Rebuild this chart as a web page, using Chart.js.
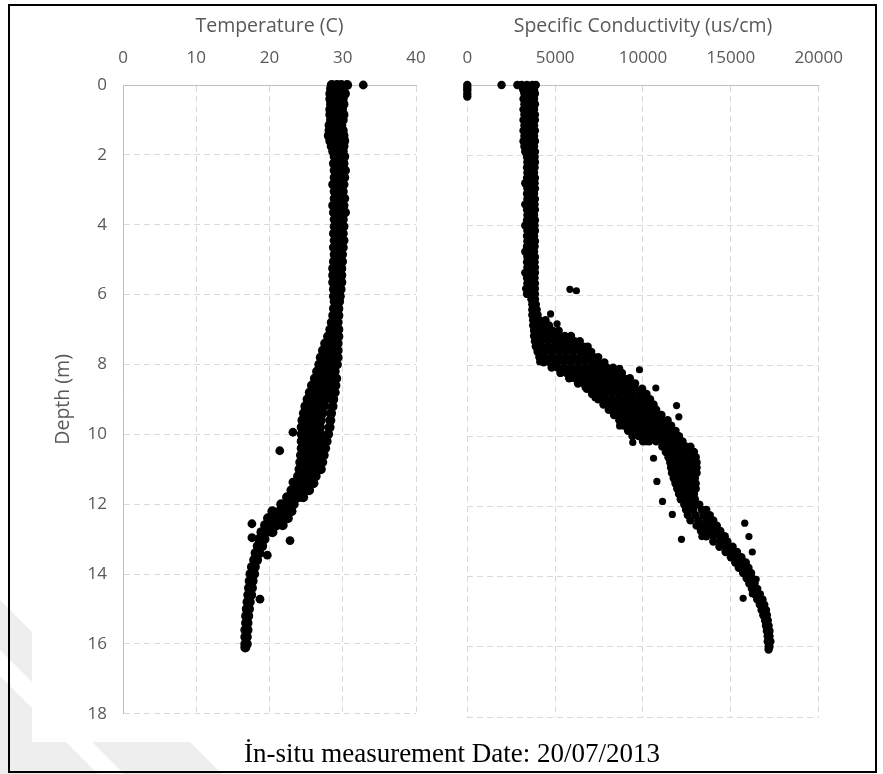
<!DOCTYPE html>
<html>
<head>
<meta charset="utf-8">
<script src="https://cdn.jsdelivr.net/npm/chart.js@4.4.1/dist/chart.umd.min.js"></script>
<style>
  * { margin: 0; padding: 0; box-sizing: border-box; }
  body { width: 883px; height: 774px; background: #fff; position: relative; overflow: hidden; }
  #mark { position: absolute; left: 0; top: 0; }
  #panel { position: absolute; left: 32px; top: 8px; width: 836px; height: 734px; background: #fff; }
  #frame { position: absolute; left: 8px; top: 4px; width: 869px; height: 769px; border: 2px solid #000; }
  canvas { position: absolute; }
  #tempChart { left: 30px; top: 10px; }
  #condChart { left: 440px; top: 10px; }
  #caption {
    position: absolute; left: 8px; width: 888px; top: 737px; text-align: center;
    font-family: "Liberation Serif", "Times New Roman", serif; font-size: 27px; line-height: 32px; color: #000;
  }
</style>
</head>
<body>
<svg id="mark" width="883" height="774">
  <polygon points="0,600 32,632 32,742 190,742 222,774 0,774" fill="#eeeeee"/>
  <polygon points="0,650 0,676 98,774 124,774" fill="#ffffff"/>
</svg>
<div id="panel"></div>
<canvas id="tempChart" width="420" height="730"></canvas>
<canvas id="condChart" width="420" height="730"></canvas>
<div id="caption">İn-situ measurement Date: 20/07/2013</div>
<div id="frame"></div>
<script>
// Each row: [depth (m), value, value, ...]
const tempUpper = [
  [0.0, 28.5, 29.2, 29.8, 30.6], [0.1, 28.4, 29.0, 29.8], [0.25, 28.3, 29.0, 29.8, 30.3],
  [0.4, 28.3, 29.1, 30.0], [0.55, 28.4, 29.2, 30.1], [0.7, 28.3, 29.0, 29.9],
  [0.85, 28.3, 29.1, 30.1], [1.0, 28.4, 29.2, 30.0], [1.15, 28.2, 29.0, 29.8],
  [1.3, 28.2, 29.1, 30.0], [1.45, 28.1, 29.0, 30.1], [1.6, 28.3, 29.2, 30.2],
  [1.75, 28.5, 29.3, 30.1], [1.9, 28.7, 29.4, 30.0], [2.05, 28.9, 29.6, 30.2],
  [2.25, 28.8, 29.5, 30.1], [2.45, 28.9, 29.6, 30.3], [2.65, 28.9, 29.5, 30.2],
  [2.85, 28.7, 29.5, 30.1], [3.05, 28.9, 29.6, 30.0], [3.25, 28.9, 29.5, 30.2],
  [3.45, 28.7, 29.5, 30.1], [3.65, 28.8, 29.5, 30.3], [3.85, 28.9, 29.6, 30.0],
  [4.05, 28.9, 29.5, 30.1], [4.25, 28.8, 29.5, 30.0], [4.45, 28.9, 29.6, 30.1],
  [4.65, 28.8, 29.4, 30.0], [4.85, 28.9, 29.5, 29.9], [5.05, 28.8, 29.4, 29.9],
  [5.25, 28.7, 29.3, 29.8], [5.45, 28.7, 29.3, 29.8], [5.65, 28.7, 29.3, 29.8],
  [5.85, 28.8, 29.3, 29.7], [6.05, 28.8, 29.3, 29.6]
];
const tempThermocline = [
  [6.2, 28.9, 29.5], [6.4, 28.8, 29.4], [6.6, 28.7, 29.4], [6.8, 28.5, 29.3],
  [7.0, 28.3, 28.9, 29.4], [7.2, 28.0, 28.7, 29.4], [7.4, 27.6, 28.4, 29.3],
  [7.6, 27.3, 28.1, 28.8, 29.3], [7.8, 27.0, 27.8, 28.6, 29.3], [8.0, 26.8, 27.6, 28.4, 29.2],
  [8.2, 26.5, 27.3, 28.1, 28.9], [8.4, 26.2, 27.0, 27.8, 28.6, 29.1],
  [8.6, 25.8, 26.6, 27.4, 28.2, 29.0], [8.8, 25.5, 26.3, 27.1, 27.9, 28.9],
  [9.0, 25.2, 26.0, 26.8, 27.6, 28.7], [9.2, 24.9, 25.7, 26.5, 27.4, 28.6],
  [9.4, 24.7, 25.5, 26.3, 27.2, 28.4], [9.6, 24.5, 25.3, 26.1, 27.0, 28.3],
  [9.8, 24.4, 25.2, 26.0, 26.9, 28.2], [10.0, 24.4, 25.2, 26.0, 26.9, 28.0],
  [10.2, 24.4, 25.2, 26.0, 26.8, 27.8], [10.4, 24.4, 25.1, 25.9, 26.7, 27.6],
  [10.6, 24.3, 25.1, 25.9, 26.7, 27.4], [10.8, 24.2, 25.0, 25.8, 26.6, 27.2],
  [11.0, 24.1, 24.9, 25.7, 26.5, 27.0], [11.2, 23.9, 24.7, 25.5, 26.3],
  [11.4, 23.6, 24.4, 25.2, 26.0], [11.6, 23.0, 23.8, 24.6, 25.4],
  [11.8, 22.4, 23.2, 24.0, 24.6], [12.0, 21.6, 22.4, 23.3]
];
const tempTail = [
  [12.2, 20.4, 21.4, 22.4, 23.0], [12.4, 19.8, 20.6, 21.6, 22.5], [12.6, 19.4, 20.2, 21.0, 21.8],
  [12.8, 18.9, 19.6, 20.4], [13.0, 18.6, 19.3], [13.2, 18.4, 19.0], [13.4, 18.1, 18.6],
  [13.6, 17.9, 18.3], [13.8, 17.6, 18.0], [14.0, 17.4, 17.9], [14.2, 17.3, 17.7],
  [14.4, 17.2, 17.6], [14.6, 17.1, 17.5], [14.8, 17.0, 17.3], [15.0, 16.9, 17.2],
  [15.2, 16.8, 17.1], [15.4, 16.8, 17.0], [15.6, 16.7, 17.0], [15.8, 16.7, 16.9],
  [16.0, 16.7, 16.9], [16.1, 16.7]
];
const tempOutliers = [
  [0.0, 32.8], [9.94, 23.2], [10.47, 21.4], [11.37, 23.2], [12.56, 17.6],
  [12.96, 17.6], [13.46, 19.7], [13.04, 22.8], [14.72, 18.7], [12.3, 20.3]
];

const condTop = [
  [0.0, 0, 1950, 2850, 3100, 3400, 3700, 3900], [0.08, 0, 3150, 3450, 3750],
  [0.15, 0, 3200, 3500, 3800], [0.25, 0, 3250, 3550, 3850], [0.33, 0]
];
const condColumn = [
  [0.4, 3200, 3500, 3800], [0.55, 3250, 3550, 3850], [0.7, 3200, 3500, 3800],
  [0.85, 3250, 3550, 3850], [1.0, 3200, 3500, 3850], [1.15, 3250, 3550, 3800],
  [1.3, 3200, 3500, 3850], [1.45, 3250, 3550, 3800], [1.6, 3200, 3500, 3850],
  [1.75, 3250, 3550, 3800], [1.9, 3300, 3550, 3850], [2.05, 3400, 3620, 3830],
  [2.2, 3420, 3620, 3850], [2.35, 3400, 3620, 3830], [2.5, 3420, 3620, 3800],
  [2.65, 3400, 3620, 3850], [2.8, 3300, 3620, 3830], [2.95, 3420, 3620, 3850],
  [3.1, 3400, 3620, 3800], [3.25, 3420, 3620, 3850], [3.4, 3300, 3620, 3830],
  [3.55, 3400, 3620, 3850], [3.7, 3420, 3620, 3800], [3.85, 3400, 3620, 3850],
  [4.0, 3300, 3620, 3830], [4.15, 3420, 3620, 3850], [4.3, 3400, 3620, 3800],
  [4.45, 3420, 3620, 3850], [4.6, 3400, 3620, 3830], [4.75, 3300, 3620, 3800],
  [4.9, 3420, 3620, 3850], [5.05, 3400, 3620, 3830], [5.2, 3420, 3650, 3850],
  [5.35, 3300, 3620, 3850], [5.5, 3400, 3650, 3830], [5.65, 3420, 3650, 3850],
  [5.8, 3350, 3650, 3850], [5.95, 3400, 3650, 3850], [6.1, 3650, 3850],
  [6.25, 3700, 3900], [6.4, 3700, 3950]
];
const condCloud = [
  [6.55, 3700, 4000], [6.7, 3750, 4100, 4450], [6.85, 3750, 4050, 4350, 4650],
  [7.0, 3800, 4150, 4500, 4850, 5200], [7.15, 3800, 4150, 4500, 4850, 5200, 5550, 5900],
  [7.3, 3850, 4200, 4600, 5000, 5400, 5750, 6100, 6400],
  [7.45, 3900, 4250, 4650, 5050, 5450, 5850, 6250, 6600, 6850],
  [7.6, 4000, 4400, 4800, 5200, 5600, 6000, 6400, 6750, 7050],
  [7.75, 4100, 4450, 4850, 5250, 5650, 6050, 6450, 6850, 7200, 7450],
  [7.9, 4350, 4700, 5100, 5500, 5900, 6300, 6700, 7100, 7450, 7800],
  [8.05, 4800, 5150, 5550, 5950, 6350, 6750, 7150, 7550, 7950, 8300],
  [8.2, 5300, 5650, 6050, 6450, 6850, 7250, 7650, 8050, 8450, 8800],
  [8.35, 5800, 6150, 6550, 6950, 7350, 7750, 8150, 8550, 8900, 9250],
  [8.5, 6300, 6650, 7050, 7450, 7850, 8250, 8650, 9050, 9350, 9550],
  [8.65, 6800, 7150, 7550, 7950, 8350, 8750, 9150, 9550, 9950],
  [8.8, 7100, 7450, 7850, 8250, 8650, 9050, 9450, 9850, 10200],
  [8.95, 7450, 7800, 8200, 8600, 9000, 9400, 9800, 10150, 10400],
  [9.1, 7750, 8100, 8500, 8900, 9300, 9700, 10100, 10400, 10600],
  [9.25, 8050, 8400, 8800, 9200, 9600, 10000, 10400, 10750],
  [9.4, 8350, 8700, 9100, 9500, 9900, 10300, 10700, 11050],
  [9.55, 8650, 9000, 9400, 9800, 10200, 10600, 11000, 11400],
  [9.7, 8900, 9250, 9650, 10050, 10450, 10850, 11250, 11600],
  [9.85, 9150, 9500, 9900, 10300, 10700, 11100, 11500, 11850],
  [10.0, 9400, 9750, 10150, 10550, 10950, 11350, 11750, 12050],
  [10.15, 10000, 10350, 10750, 11150, 11550, 11950, 12250],
  [10.3, 11100, 11450, 11800, 12150, 12450, 12700],
  [10.45, 11300, 11650, 12000, 12350, 12650, 12900],
  [10.6, 11450, 11800, 12150, 12500, 12800, 13000],
  [10.75, 11550, 11900, 12250, 12600, 12900, 13050],
  [10.9, 11600, 11950, 12300, 12650, 12950, 13050],
  [11.05, 11650, 12000, 12350, 12700, 13050], [11.2, 11750, 12100, 12450, 12800, 12950],
  [11.35, 11850, 12200, 12550, 12850, 13000], [11.5, 11950, 12300, 12650, 13000],
  [11.65, 12050, 12400, 12700, 12900], [11.8, 12150, 12500, 12800, 12950],
  [11.95, 12350, 12700, 13000, 13200]
];
const condTail = [
  [12.1, 12450, 12850, 13350, 13600], [12.25, 12550, 13000, 13450, 13800],
  [12.4, 12700, 13150, 13600, 14000], [12.55, 13050, 13450, 13850, 14200],
  [12.7, 13300, 13700, 14100, 14400], [12.85, 13600, 14000, 14400, 14650],
  [13.0, 14000, 14400, 14800], [13.15, 14350, 14750, 15100], [13.3, 14700, 15050, 15350],
  [13.45, 15000, 15350, 15600], [13.6, 15250, 15550, 15850], [13.75, 15450, 15750, 16000],
  [13.9, 15700, 15950, 16150], [14.05, 15900, 16200], [14.2, 16050, 16350],
  [14.35, 16200, 16500], [14.5, 16350, 16650], [14.65, 16500, 16800],
  [14.8, 16650, 16900], [14.95, 16750, 17000], [15.1, 16850, 17050],
  [15.25, 16950, 17100], [15.4, 17000, 17150], [15.55, 17050, 17200],
  [15.7, 17100, 17200], [15.85, 17100, 17250], [16.0, 17150, 17200], [16.08, 17150]
];
const condOutliers = [
  [5.82, 5840], [5.86, 6210], [6.52, 4740], [6.8, 5110], [7.88, 4120], [8.35, 6050],
  [8.6, 6700], [8.91, 7270], [8.07, 8670], [8.11, 9800], [8.63, 10730], [9.13, 11910],
  [9.45, 12040], [9.71, 8670], [10.18, 9420], [10.16, 10170], [10.63, 10600],
  [11.29, 10790], [11.86, 11110], [12.23, 11670], [12.94, 12190], [12.86, 13350],
  [12.48, 15790], [12.86, 16030], [13.3, 16220], [14.62, 15700], [14.49, 16220], [14.08, 16440]
];

const depthTicks = { min: 0, max: 18, step: 2 };
const tempTicks = { min: 0, max: 40, step: 10 };
const condTicks = { min: 0, max: 20000, step: 5000 };

const toPoints = rows => rows.flatMap(r => r.slice(1).map(v => ({ x: v, y: r[0] })));

const TICK_COLOR = '#595959';
const GRID_COLOR = '#d9d9d9';
const FONT = '"Open Sans", sans-serif';
const TICK_FONT = { family: FONT, size: 17 };
const TITLE_FONT = { family: FONT, size: 19.5 };

function depthScale(showLabels, yWidth) {
  return {
    type: 'linear', reverse: true,
    min: depthTicks.min, max: depthTicks.max,
    afterFit: s => { s.width = yWidth; },
    ticks: { display: showLabels, stepSize: depthTicks.step, color: TICK_COLOR, padding: 16, font: TICK_FONT,
             callback: v => String(v) },
    grid: { color: GRID_COLOR, drawTicks: false, lineWidth: 1 },
    border: { display: showLabels, color: '#bfbfbf', dash: [6, 4] },
    title: { display: showLabels, text: 'Depth (m)', color: TICK_COLOR, padding: { top: 22, bottom: 0 }, font: TITLE_FONT }
  };
}

function valueScale(t, label) {
  return {
    type: 'linear', position: 'top',
    min: t.min, max: t.max,
    afterFit: s => { s.height = 75; },
    ticks: { stepSize: t.step, color: TICK_COLOR, padding: 17, font: TICK_FONT, callback: v => String(v) },
    grid: { color: GRID_COLOR, drawTicks: false, lineWidth: 1 },
    border: { display: true, color: '#bfbfbf', dash: [6, 4] },
    title: { display: true, text: label, color: TICK_COLOR, padding: { top: 5, bottom: 0 }, font: TITLE_FONT }
  };
}

const baseOptions = {
  responsive: false, animation: false,
  plugins: { legend: { display: false }, tooltip: { enabled: false } }
};

const dot = (data, r) => ({ data, backgroundColor: '#000', borderColor: '#000', borderWidth: 0, pointRadius: r, clip: false });

new Chart(document.getElementById('tempChart'), {
  type: 'scatter',
  data: {
    datasets: [
      dot(toPoints([...tempUpper, ...tempThermocline, ...tempTail]), 5),
      dot(toPoints(tempOutliers), 4.4)
    ]
  },
  options: {
    ...baseOptions,
    layout: { padding: { left: 0, top: 0, right: 34, bottom: 23 } },
    scales: { x: valueScale(tempTicks, 'Temperature (C)'), y: depthScale(true, 93) }
  }
});

new Chart(document.getElementById('condChart'), {
  type: 'scatter',
  data: {
    datasets: [
      dot(toPoints([...condTop, ...condColumn, ...condCloud, ...condTail]), 4.2),
      dot(toPoints(condOutliers), 3.6)
    ]
  },
  options: {
    ...baseOptions,
    layout: { padding: { left: 0, top: 0, right: 35, bottom: 23 } },
    scales: { x: valueScale(condTicks, 'Specific Conductivity (us/cm)'), y: depthScale(false, 27.3) }
  }
});
</script>
</body>
</html>
